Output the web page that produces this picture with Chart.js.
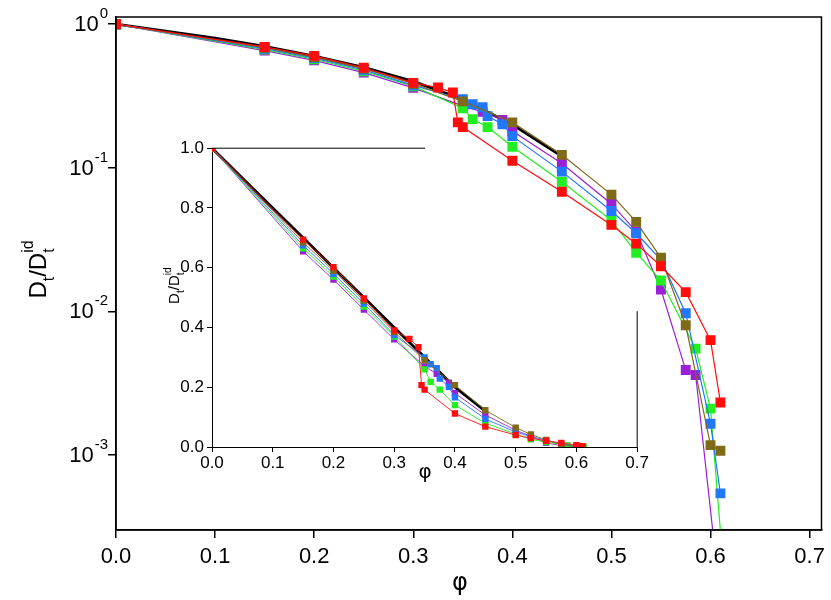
<!DOCTYPE html>
<html><head><meta charset="utf-8">
<script src="https://cdn.jsdelivr.net/npm/chart.js@4/dist/chart.umd.min.js"></script>
<style>
body{margin:0;background:#fff;}
#wrap{position:relative;width:831px;height:600px;}
#main{position:absolute;left:0;top:0;}
#inset{position:absolute;left:160px;top:135px;}
</style></head><body>
<div id="wrap"><canvas id="main" width="831" height="600"></canvas><canvas id="inset" width="490" height="345"></canvas></div>
<script>
// volume fraction phi and normalised diffusion D_t/D_t^id
const blackPhi = [0, 0.1, 0.15, 0.2, 0.25, 0.3, 0.35, 0.4, 0.45];
const blackD   = [1, 0.8, 0.7, 0.6, 0.5, 0.4, 0.3, 0.2, 0.12];

const purplePhi = [0, 0.15, 0.2, 0.25, 0.3, 0.35, 0.37, 0.39, 0.4, 0.45, 0.5, 0.525, 0.55, 0.575, 0.585, 0.605];
const purpleD   = [1, 0.655, 0.56, 0.46, 0.36, 0.27, 0.245, 0.215, 0.18, 0.107, 0.056, 0.036, 0.0142, 0.0039, 0.0036, 0.0002];
const greenPhi = [0, 0.15, 0.2, 0.25, 0.3, 0.35, 0.36, 0.375, 0.4, 0.45, 0.5, 0.525, 0.55, 0.585, 0.6, 0.612];
const greenD   = [1, 0.665, 0.57, 0.47, 0.37, 0.26, 0.218, 0.192, 0.14, 0.080, 0.043, 0.0256, 0.0164, 0.0055, 0.0021, 0.0002];
const bluePhi = [0, 0.15, 0.2, 0.25, 0.3, 0.35, 0.36, 0.37, 0.375, 0.39, 0.4, 0.45, 0.5, 0.525, 0.55, 0.575, 0.6, 0.61];
const blueD   = [1, 0.675, 0.58, 0.48, 0.375, 0.30, 0.277, 0.264, 0.229, 0.201, 0.166, 0.094, 0.050, 0.035, 0.0228, 0.0097, 0.00165, 0.00054];
const brownPhi = [0, 0.15, 0.2, 0.25, 0.3, 0.35, 0.4, 0.45, 0.5, 0.525, 0.55, 0.575, 0.6, 0.61];
const brownD   = [1, 0.685, 0.59, 0.49, 0.385, 0.29, 0.207, 0.123, 0.065, 0.042, 0.0236, 0.0080, 0.00117, 0.00107];
const redPhi = [0, 0.15, 0.2, 0.25, 0.3, 0.325, 0.34, 0.345, 0.35, 0.4, 0.45, 0.5, 0.525, 0.55, 0.575, 0.6, 0.61];
const redD   = [1, 0.694, 0.602, 0.497, 0.39, 0.362, 0.334, 0.207, 0.192, 0.112, 0.068, 0.040, 0.0296, 0.0206, 0.0136, 0.0063, 0.00232];

const xTicks = [0, 0.1, 0.2, 0.3, 0.4, 0.5, 0.6, 0.7];
const yDecades = [1e-3, 1e-2, 1e-1, 1];
const insetY = [0, 0.2, 0.4, 0.6, 0.8, 1.0];

const colors = {black:'#000000', purple:'#9b1fd6', green:'#22ee22', blue:'#2277ff', brown:'#7f6a17', red:'#ff0d0d'};

function pts(xs, ys){ return xs.map((x,i)=>({x:x, y:ys[i]})); }

// dataset 0 is drawn on top, so red comes first
function makeSets(size, lw){
  const s = [
    ['red', redPhi, redD], ['brown', brownPhi, brownD], ['blue', bluePhi, blueD],
    ['green', greenPhi, greenD], ['purple', purplePhi, purpleD]
  ].map(([c,xs,ys]) => ({
    data: pts(xs,ys), borderColor: colors[c], backgroundColor: colors[c], borderWidth: lw,
    pointStyle: 'rect', pointRadius: size, pointBorderWidth: 0, pointHoverRadius: size, showLine: true
  }));
  s.push({data: pts(blackPhi, blackD), borderColor: '#000', borderWidth: 2.8, pointRadius: 0, showLine: true});
  return s;
}

const FONT = '"Liberation Sans", Arial, sans-serif';

function drawDTitle(ctx, cx, cy, fs){
  const big = fs + 'px ' + FONT, small = Math.round(fs * 0.68) + 'px ' + FONT;
  const parts = [['D', big, 0], ['t', small, fs * 0.3], ['/D', big, 0], ['t', small, fs * 0.3]];
  ctx.textBaseline = 'alphabetic'; ctx.textAlign = 'left';
  let w = 0;
  parts.forEach(p => { ctx.font = p[1]; w += ctx.measureText(p[0]).width; });
  let x = cx - w / 2, lastX = 0;
  parts.forEach(p => { ctx.font = p[1]; lastX = x; ctx.fillText(p[0], x, cy + fs * 0.35 + p[2]); x += ctx.measureText(p[0]).width; });
  ctx.font = small;
  ctx.fillText('id', lastX, cy + fs * 0.35 - fs * 0.55);
}

const mainDeco = {
  id: 'mainDeco',
  afterDraw(chart){
    const {ctx, chartArea: a, scales} = chart;
    ctx.save();
    ctx.strokeStyle = '#000'; ctx.lineWidth = 1.5;
    ctx.strokeRect(a.left, a.top, a.right - a.left, a.bottom - a.top);
    ctx.fillStyle = '#000';
    yDecades.forEach(v => {
      const y = scales.y.getPixelForValue(v);
      const e = String(Math.round(Math.log10(v)));
      ctx.font = '15px ' + FONT;
      const ew = ctx.measureText(e).width;
      ctx.textAlign = 'left'; ctx.textBaseline = 'middle';
      ctx.fillText(e, a.left - 8 - ew, y - 10);
      ctx.font = '22px ' + FONT; ctx.textAlign = 'right';
      ctx.fillText('10', a.left - 9 - ew, y + 1);
    });
    ctx.font = '24px "DejaVu Sans", sans-serif'; ctx.textAlign = 'center'; ctx.textBaseline = 'alphabetic';
    ctx.fillText('φ', 460, 590);
    // inset x title
    ctx.font = '20px "DejaVu Sans", sans-serif';
    ctx.fillText('φ', 425, 478);
    ctx.translate(38, (a.top + a.bottom) / 2);
    ctx.rotate(-Math.PI / 2);
    drawDTitle(ctx, 0, 0, 24);
    ctx.restore();
  }
};

const insetDeco = {
  id: 'insetDeco',
  afterDraw(chart){
    const {ctx, chartArea: a} = chart;
    ctx.save();
    ctx.strokeStyle = '#000'; ctx.lineWidth = 1;
    ctx.beginPath();
    ctx.moveTo(a.left, a.top); ctx.lineTo(a.left + 213, a.top);
    ctx.moveTo(a.right, a.bottom); ctx.lineTo(a.right, a.top + 163);
    ctx.stroke();
    ctx.fillStyle = '#000';
    ctx.translate(14, a.top + 140);
    ctx.rotate(-Math.PI / 2);
    drawDTitle(ctx, 0, 0, 15);
    ctx.restore();
  }
};

new Chart(document.getElementById('main'), {
  type: 'scatter',
  data: {datasets: makeSets(7, 1.2)},
  plugins: [mainDeco],
  options: {
    responsive: false, animation: false, events: [],
    layout: {padding: {top: 17, right: 2, left: 0, bottom: 0}},
    plugins: {legend: {display: false}, tooltip: {enabled: false}},
    scales: {
      x: {
        type: 'linear', min: 0, max: 0.712,
        afterBuildTicks: s => { s.ticks = xTicks.map(v => ({value: v})); },
        afterFit: s => { s.height = 70; },
        ticks: {color: '#000', font: {size: 22, family: FONT}, padding: 6, callback: v => v.toFixed(1)},
        grid: {drawOnChartArea: false, tickLength: 8, color: '#000', lineWidth: 1.5},
        border: {color: '#000', width: 1.5}
      },
      y: {
        type: 'logarithmic', min: Math.pow(10, -3.5), max: Math.pow(10, 0.05),
        afterBuildTicks: s => { s.ticks = yDecades.map(v => ({value: v})); },
        afterFit: s => { s.width = 116; },
        ticks: {callback: () => '', font: {size: 1}},
        grid: {drawOnChartArea: false, tickLength: 8, color: '#000', lineWidth: 1.5},
        border: {color: '#000', width: 1.5}
      }
    }
  }
});

new Chart(document.getElementById('inset'), {
  type: 'scatter',
  data: {datasets: makeSets(4.5, 0.9)},
  plugins: [insetDeco],
  options: {
    responsive: false, animation: false, events: [],
    layout: {padding: {top: 12, right: 12, left: 0, bottom: 0}},
    plugins: {legend: {display: false}, tooltip: {enabled: false}},
    scales: {
      x: {
        type: 'linear', min: 0, max: 0.7,
        afterBuildTicks: s => { s.ticks = xTicks.map(v => ({value: v})); },
        afterFit: s => { s.height = 33; },
        ticks: {color: '#000', font: {size: 17, family: FONT}, padding: 1, callback: v => v.toFixed(1)},
        grid: {drawOnChartArea: false, tickLength: 5, color: '#000'},
        border: {color: '#000'}
      },
      y: {
        type: 'linear', min: 0, max: 1,
        afterBuildTicks: s => { s.ticks = insetY.map(v => ({value: v})); },
        afterFit: s => { s.width = 52; },
        ticks: {color: '#000', font: {size: 17, family: FONT}, padding: 3, callback: v => v.toFixed(1)},
        grid: {drawOnChartArea: false, tickLength: 5, color: '#000'},
        border: {color: '#000'}
      }
    }
  }
});
</script>
</body></html>
